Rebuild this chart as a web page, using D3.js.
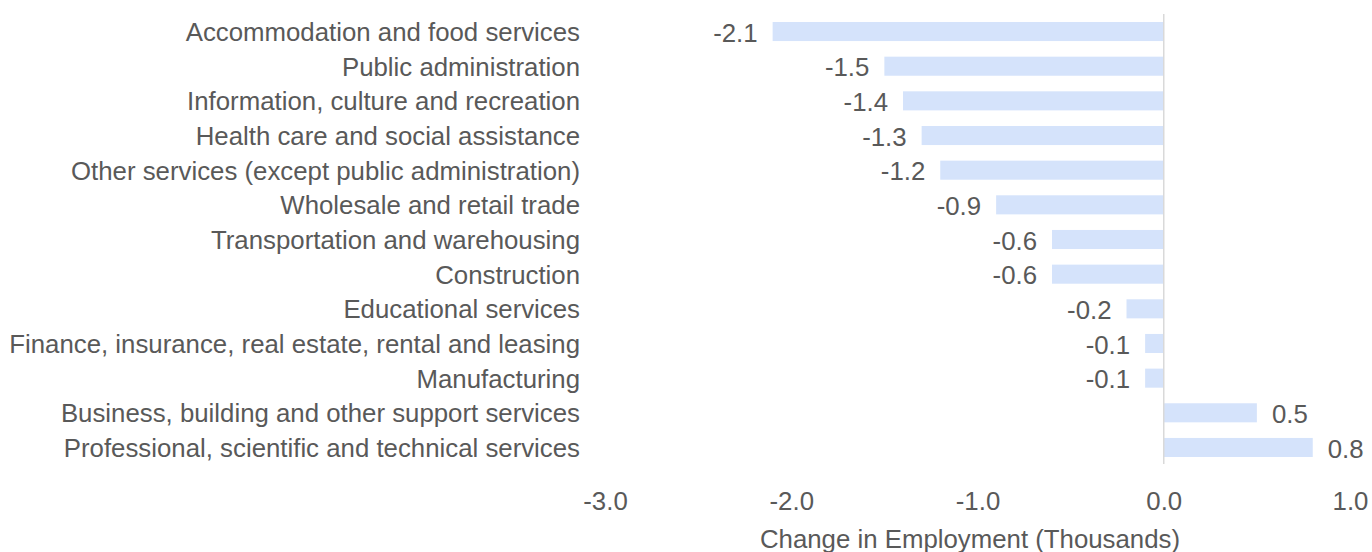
<!DOCTYPE html>
<html><head><meta charset="utf-8">
<script src="https://cdn.jsdelivr.net/npm/d3@7"></script>
<style>
body{margin:0;background:#fff;}
text{font-family:"Liberation Sans",Arial,sans-serif;fill:#595959;}
</style></head>
<body><svg id="c" width="1372" height="552"></svg>
<script>
const categories = [
  "Accommodation and food services",
  "Public administration",
  "Information, culture and recreation",
  "Health care and social assistance",
  "Other services (except public administration)",
  "Wholesale and retail trade",
  "Transportation and warehousing",
  "Construction",
  "Educational services",
  "Finance, insurance, real estate, rental and leasing",
  "Manufacturing",
  "Business, building and other support services",
  "Professional, scientific and technical services"
];
const values = [-2.1, -1.5, -1.4, -1.3, -1.2, -0.9, -0.6, -0.6, -0.2, -0.1, -0.1, 0.5, 0.8];
const tickValues = [-3, -2, -1, 0, 1];
const axisTitle = "Change in Employment (Thousands)";

const svg = d3.select("#c");
const fs = 25.8;
const x = d3.scaleLinear().domain([-3, 1]).range([605, 1350]);
const y = d3.scaleBand().domain(categories).range([14.2, 464.8]).paddingInner(0.45).paddingOuter(0.225);
const fmt = d => d3.format(".1f")(d).replace("\u2212", "-");

svg.append("g").selectAll("rect").data(values).join("rect")
  .attr("x", d => x(Math.min(0, d)))
  .attr("width", d => Math.abs(x(d) - x(0)))
  .attr("y", (d, i) => y(categories[i]))
  .attr("height", y.bandwidth())
  .attr("fill", "#d5e3fb");

svg.append("line").attr("x1", x(0)).attr("x2", x(0)).attr("y1", 14).attr("y2", 464)
  .attr("stroke", "#d9d9d9").attr("stroke-width", 1.5);

svg.append("g").selectAll("text").data(values).join("text")
  .attr("x", d => d < 0 ? x(d) - 15 : x(d) + 15)
  .attr("y", (d, i) => y(categories[i]) + y.bandwidth() / 2)
  .attr("dy", "0.39em")
  .attr("text-anchor", d => d < 0 ? "end" : "start")
  .style("font-size", fs + "px")
  .text(fmt);

svg.append("g").selectAll("text").data(categories).join("text")
  .attr("x", 580)
  .attr("y", d => y(d) + y.bandwidth() / 2)
  .attr("dy", "0.37em")
  .attr("text-anchor", "end")
  .style("font-size", fs + "px")
  .text(d => d);

const ax = d3.axisBottom(x).tickValues(tickValues).tickSize(0).tickPadding(0).tickFormat(fmt);
const g = svg.append("g").attr("transform", "translate(0,500)").call(ax);
g.select(".domain").remove();
g.selectAll("text").attr("dy", "0.37em").attr("y", 0).style("font-size", fs + "px").attr("fill", null);
g.attr("font-family", null).attr("font-size", null);

svg.append("text").attr("x", 970).attr("y", 538.5).attr("dy", "0.37em").attr("text-anchor", "middle")
  .style("font-size", fs + "px").text(axisTitle);
</script></body></html>
